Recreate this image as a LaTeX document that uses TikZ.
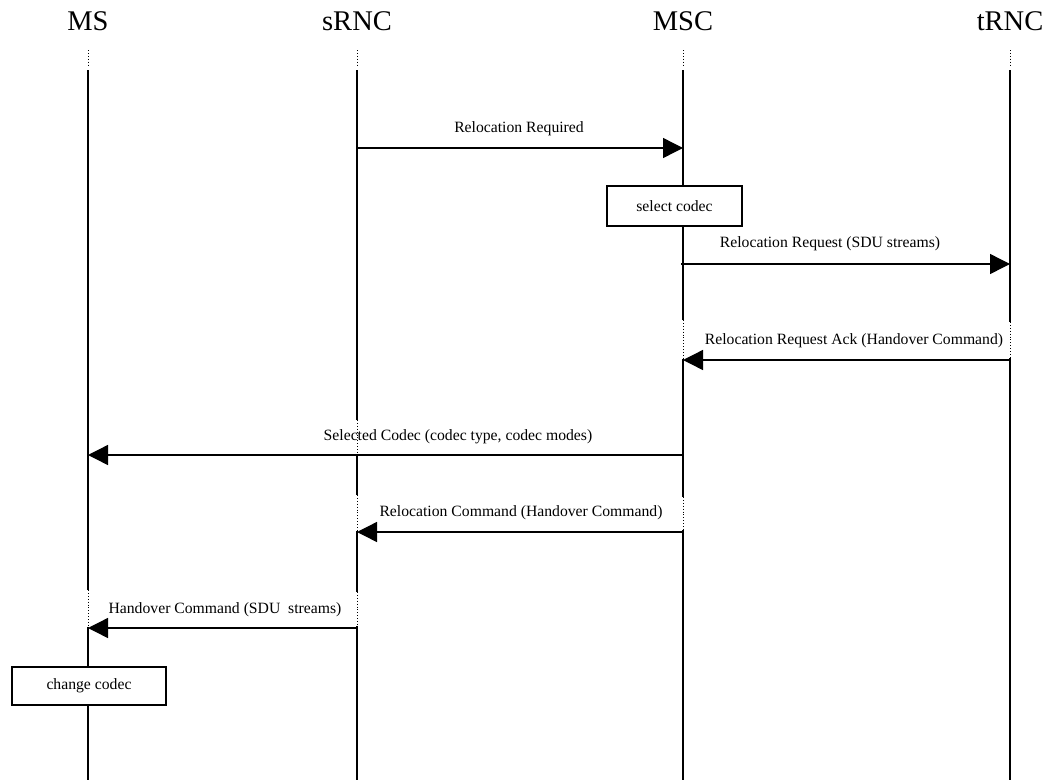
\documentclass[tikz,border=0pt]{standalone}
\usepackage{fontspec}
\setmainfont{Liberation Serif}
\usetikzlibrary{arrows.meta}
\begin{document}
\begin{tikzpicture}[x=1pt,y=-1pt,
  life/.style={line width=1.4pt},
  dotline/.style={line width=0.9pt, dash pattern=on 0.9pt off 2pt},
  msg/.style={line width=1.4pt,-{Triangle[length=20pt,width=20pt]}},
  head/.style={font=\fontsize{28.5}{30}\selectfont, inner sep=0pt},
  lbl/.style={font=\fontsize{15.7}{17}\selectfont, inner sep=0pt},
  actbox/.style={draw, line width=1.3pt, fill=white, inner sep=0pt,
    font=\fontsize{15.7}{17}\selectfont}]
\fill[white] (0,0) rectangle (1042,780);
\useasboundingbox (0,0) rectangle (1042,780);

% headers
\node[head] (ms)   at (88,21)   {MS};
\node[head] (srnc) at (357,21)  {sRNC};
\node[head] (msc)  at (683,21)  {MSC};
\node[head] (trnc) at (1010,21) {tRNC};

% lifelines: dotted top parts
\foreach \x in {88,357,683,1010}{
  \draw[dotline] (\x,50) -- (\x,66);
}
% MS
\draw[life] (88,70) -- (88,590);
\draw[dotline] (88,590) -- (88,626);
\draw[life] (88,627) -- (88,780);
% sRNC
\draw[life] (357,70) -- (357,420);
\draw[dotline] (357,420) -- (357,453);
\draw[life] (357,454) -- (357,495);
\draw[dotline] (357,495) -- (357,531);
\draw[life] (357,531) -- (357,592);
\draw[dotline] (357,592) -- (357,626);
\draw[life] (357,626) -- (357,780);
% MSC
\draw[life] (683,70) -- (683,320);
\draw[dotline] (683,320) -- (683,359);
\draw[life] (683,359) -- (683,497);
\draw[dotline] (683,497) -- (683,530);
\draw[life] (683,530) -- (683,780);
% tRNC
\draw[life] (1010,70) -- (1010,322);
\draw[dotline] (1010,322) -- (1010,358);
\draw[life] (1010,358) -- (1010,780);

% message end points
\coordinate (a1) at (357,148);  \coordinate (b1) at (683,148);
\coordinate (a2) at (681,264);  \coordinate (b2) at (1010,264);
\coordinate (a3) at (1010,360); \coordinate (b3) at (683,360);
\coordinate (a4) at (683,455);  \coordinate (b4) at (88,455);
\coordinate (a5) at (683,532);  \coordinate (b5) at (357,532);
\coordinate (a6) at (357,628);  \coordinate (b6) at (88,628);

\draw[msg] (a1) -- (b1);
\draw[msg] (a2) -- (b2);
\draw[msg] (a3) -- (b3);
\draw[msg] (a4) -- (b4);
\draw[msg] (a5) -- (b5);
\draw[msg] (a6) -- (b6);

% labels
\node[lbl] (l1) at (519,129) {Relocation Required};
\node[lbl] (l2) at (830,244) {Relocation Request (SDU streams)};
\node[lbl] (l3) at (854,341) {Relocation Request Ack (Handover Command)};
\node[lbl] (l4) at (458,437) {Selected Codec (codec type, codec modes)};
\node[lbl] (l5) at (521,513) {Relocation Command (Handover Command)};
\node[lbl] (l6) at (225,610) {Handover Command (SDU\ \ streams)};

% action boxes
\node[actbox, minimum width=135pt, minimum height=40pt] (sel) at (674.5,206) {select codec};
\node[actbox, minimum width=154pt, minimum height=38pt] (chg) at (89,686) {change codec};
\end{tikzpicture}
\end{document}
